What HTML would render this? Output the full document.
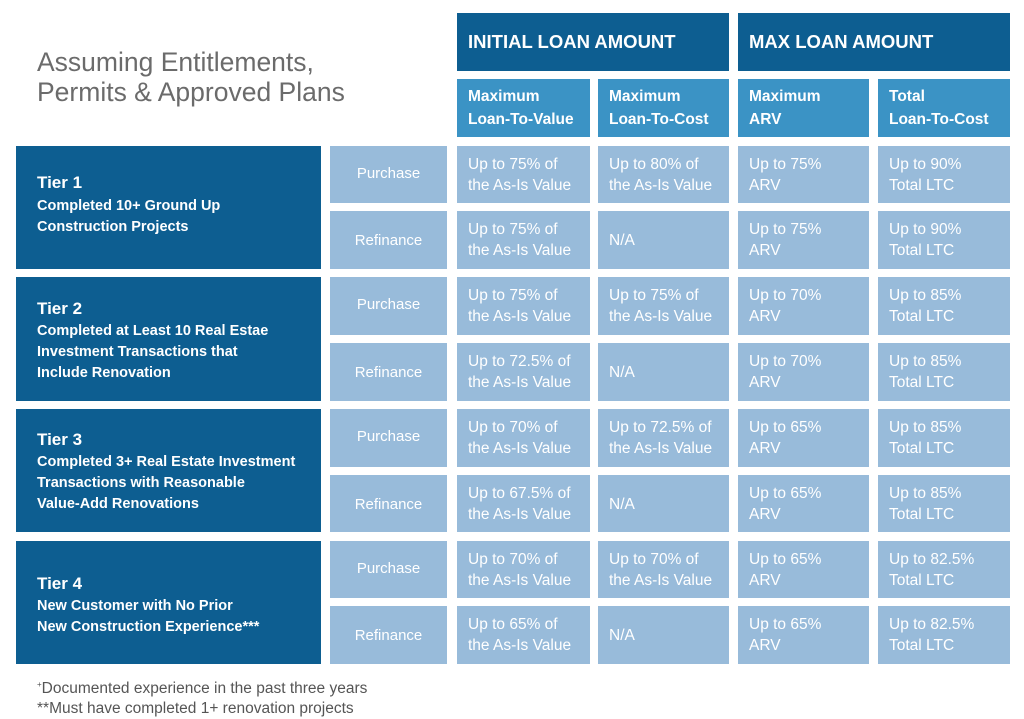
<!DOCTYPE html>
<html><head><meta charset="utf-8"><style>
body{margin:0;width:1024px;height:717px;background:#fff;position:relative;overflow:hidden;font-family:"Liberation Sans",sans-serif}
div.b{position:absolute;box-sizing:border-box;color:#fff}
.h1{background:#0d5e91;font-weight:bold;font-size:18.5px;padding:18px 0 0 11px}
.h2{background:#3b93c5;font-weight:bold;font-size:15.5px;line-height:23px;padding:6px 0 0 11px}
.c{background:#98bbda;font-size:15.5px;line-height:21px;padding:8px 0 0 11px;color:#f4f8fb}
.t{background:#98bbda;font-size:15px;color:#f4f8fb;text-align:center}
.tier{background:#0d5e91;font-weight:bold;padding-left:21px}
.tier .n{font-size:17px;line-height:24px}
.tier .s{font-size:14.5px;line-height:21px}
.title{position:absolute;left:37px;top:47px;font-size:26.5px;line-height:30px;color:#6b6b6b}
.foot{position:absolute;left:37px;top:675px;font-size:15.5px;line-height:20px;color:#555}
</style></head><body>
<div class="title">Assuming Entitlements,<br>Permits &amp; Approved Plans</div>

<div class="b h1" style="left:457px;top:13px;width:272px;height:58px">INITIAL LOAN AMOUNT</div>
<div class="b h1" style="left:738px;top:13px;width:272px;height:58px">MAX LOAN AMOUNT</div>
<div class="b h2" style="left:457px;top:79px;width:133px;height:58px">Maximum<br>Loan-To-Value</div>
<div class="b h2" style="left:598px;top:79px;width:131px;height:58px">Maximum<br>Loan-To-Cost</div>
<div class="b h2" style="left:738px;top:79px;width:131px;height:58px">Maximum<br>ARV</div>
<div class="b h2" style="left:878px;top:79px;width:132px;height:58px">Total<br>Loan-To-Cost</div>

<div class="b tier" style="left:16px;top:146px;width:305px;height:123px;padding-top:25px"><div class="n">Tier 1</div><div class="s" style="margin-top:1px">Completed 10+ Ground Up<br>Construction Projects</div></div>
<div class="b tier" style="left:16px;top:277px;width:305px;height:124px;padding-top:20px"><div class="n">Tier 2</div><div class="s">Completed at Least 10 Real Estae<br>Investment Transactions that<br>Include Renovation</div></div>
<div class="b tier" style="left:16px;top:409px;width:305px;height:123px;padding-top:19px"><div class="n">Tier 3</div><div class="s">Completed 3+ Real Estate Investment<br>Transactions with Reasonable<br>Value-Add Renovations</div></div>
<div class="b tier" style="left:16px;top:541px;width:305px;height:123px;padding-top:31px"><div class="n">Tier 4</div><div class="s">New Customer with No Prior<br>New Construction Experience***</div></div>

<div id="rows"></div>
<script>
var tops=[146,211,277,343,409,475,541,606];
var hs=[57,58,58,58,58,57,57,58];
var data=[
["Purchase","Up to 75% of<br>the As-Is Value","Up to 80% of<br>the As-Is Value","Up to 75%<br>ARV","Up to 90%<br>Total LTC"],
["Refinance","Up to 75% of<br>the As-Is Value","N/A","Up to 75%<br>ARV","Up to 90%<br>Total LTC"],
["Purchase","Up to 75% of<br>the As-Is Value","Up to 75% of<br>the As-Is Value","Up to 70%<br>ARV","Up to 85%<br>Total LTC"],
["Refinance","Up to 72.5% of<br>the As-Is Value","N/A","Up to 70%<br>ARV","Up to 85%<br>Total LTC"],
["Purchase","Up to 70% of<br>the As-Is Value","Up to 72.5% of<br>the As-Is Value","Up to 65%<br>ARV","Up to 85%<br>Total LTC"],
["Refinance","Up to 67.5% of<br>the As-Is Value","N/A","Up to 65%<br>ARV","Up to 85%<br>Total LTC"],
["Purchase","Up to 70% of<br>the As-Is Value","Up to 70% of<br>the As-Is Value","Up to 65%<br>ARV","Up to 82.5%<br>Total LTC"],
["Refinance","Up to 65% of<br>the As-Is Value","N/A","Up to 65%<br>ARV","Up to 82.5%<br>Total LTC"]];
var xs=[[330,117],[457,133],[598,131],[738,131],[878,132]];
var h="";
for(var r=0;r<8;r++){for(var c=0;c<5;c++){
 var st="left:"+xs[c][0]+"px;top:"+tops[r]+"px;width:"+xs[c][1]+"px;height:"+hs[r]+"px;";
 var d=data[r][c];
 if(c==0){var pt=d=="Purchase"?19:21;h+='<div class="b t" style="'+st+'padding-top:'+pt+'px">'+d+'</div>';}
 else if(d=="N/A"){h+='<div class="b c" style="'+st+'padding-top:19px">N/A</div>';}
 else h+='<div class="b c" style="'+st+'">'+d+'</div>';
}}
document.getElementById("rows").innerHTML=h;
</script>
<div class="foot"><sup style="font-size:8px">+</sup>Documented experience in the past three years<br>**Must have completed 1+ renovation projects</div>
</body></html>
